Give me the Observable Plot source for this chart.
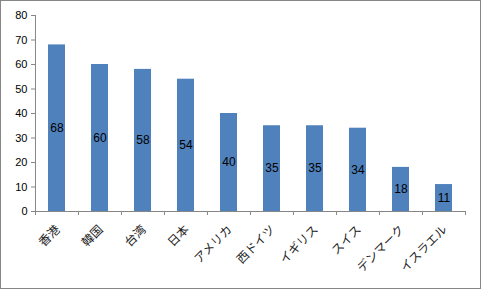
<!DOCTYPE html>
<html><head><meta charset="utf-8">
<script src="https://cdn.jsdelivr.net/npm/d3@7"></script>
<script src="https://cdn.jsdelivr.net/npm/@observablehq/plot@0.6"></script>
<style>
body{margin:0;background:#fff}
#wrap{position:relative;width:481px;height:301px}
#border{position:absolute;left:0;top:0;width:481px;height:289px;border:1px solid #868686;box-sizing:border-box;pointer-events:none}
</style></head><body><div id="wrap"><div id="border"></div></div>
<script>
const countries = ["香港","韓国","台湾","日本","アメリカ","西ドイツ","イギリス","スイス","デンマーク","イスラエル"];
const values = [68,60,58,54,40,35,35,34,18,11];
const yTicks = [0,10,20,30,40,50,60,70,80];
const data = countries.map((c,i)=>({country:c, value:values[i]}));
const W=481,H=301,mL=35,mR=15.5,mT=15,mB=90;
const step=(W-mL-mR)/countries.length;
const axisGray="#868686";
const chart = Plot.plot({
  width:W,height:H,marginLeft:mL,marginRight:mR,marginTop:mT,marginBottom:mB,
  style:{fontFamily:"'Liberation Sans', Arial, sans-serif", fontSize:"11px", color:"#000", background:"white"},
  x:{domain:countries, paddingInner:0.6, paddingOuter:0.3, label:null},
  y:{domain:[0,80], label:null},
  marks:[
    Plot.barY(data,{x:"country",y:"value",fill:"#4F81BD"}),
    Plot.text(data,{x:"country",y:d=>d.value/2,text:d=>String(d.value),fontSize:12,fill:"#000"}),
    Plot.ruleY([0],{stroke:axisGray}),
    Plot.ruleX([countries[0]],{y1:0,y2:80,dx:-step/2,stroke:axisGray}),
    Plot.ruleX(countries,{y1:0,y2:0,insetBottom:-4,dx:-step/2,stroke:axisGray}),
    Plot.ruleX([countries[countries.length-1]],{y1:0,y2:0,insetBottom:-4,dx:step/2,stroke:axisGray}),
    Plot.axisY({ticks:yTicks,tickSize:4,text:null,color:axisGray,label:null}),
    Plot.axisY({ticks:yTicks,tickSize:0,tickPadding:8,color:"#000",fontSize:11,label:null}),
    Plot.axisX({tickSize:0,tickRotate:-45,tickPadding:16,dx:1,fontFamily:"'Noto Sans CJK JP', sans-serif",fontSize:12,color:"#222",label:null})
  ]
});
document.getElementById("wrap").prepend(chart);
</script>
</body></html>
